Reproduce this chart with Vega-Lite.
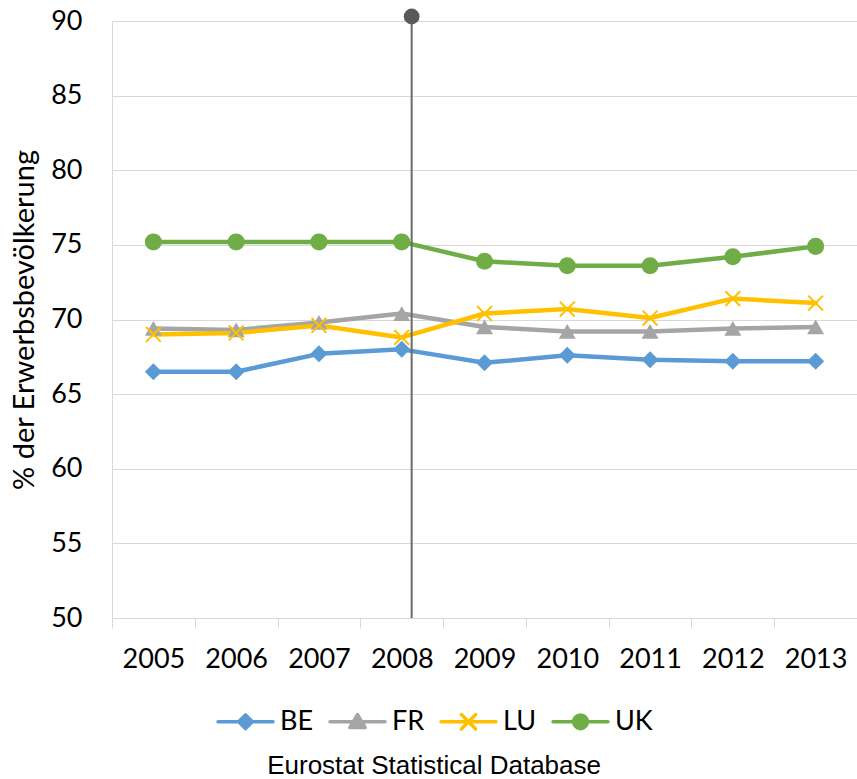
{
  "$schema": "https://vega.github.io/schema/vega-lite/v6.json",
  "autosize": {"type": "none"},
  "width": 745,
  "height": 597,
  "padding": {"left": 112, "top": 21, "right": 0, "bottom": 161},
  "background": "white",
  "title": {
    "text": "Eurostat Statistical Database",
    "orient": "bottom",
    "anchor": "middle",
    "frame": "bounds",
    "font": "Liberation Sans",
    "fontSize": 26,
    "fontWeight": "normal",
    "color": "#000000",
    "offset": 18
  },
  "datasets": {
    "main": [
      {"year": "2005", "country": "BE", "value": 66.5},
      {"year": "2006", "country": "BE", "value": 66.5},
      {"year": "2007", "country": "BE", "value": 67.7},
      {"year": "2008", "country": "BE", "value": 68.0},
      {"year": "2009", "country": "BE", "value": 67.1},
      {"year": "2010", "country": "BE", "value": 67.6},
      {"year": "2011", "country": "BE", "value": 67.3},
      {"year": "2012", "country": "BE", "value": 67.2},
      {"year": "2013", "country": "BE", "value": 67.2},
      {"year": "2005", "country": "FR", "value": 69.4},
      {"year": "2006", "country": "FR", "value": 69.3},
      {"year": "2007", "country": "FR", "value": 69.8},
      {"year": "2008", "country": "FR", "value": 70.4},
      {"year": "2009", "country": "FR", "value": 69.5},
      {"year": "2010", "country": "FR", "value": 69.2},
      {"year": "2011", "country": "FR", "value": 69.2},
      {"year": "2012", "country": "FR", "value": 69.4},
      {"year": "2013", "country": "FR", "value": 69.5},
      {"year": "2005", "country": "LU", "value": 69.0},
      {"year": "2006", "country": "LU", "value": 69.1},
      {"year": "2007", "country": "LU", "value": 69.6},
      {"year": "2008", "country": "LU", "value": 68.8},
      {"year": "2009", "country": "LU", "value": 70.4},
      {"year": "2010", "country": "LU", "value": 70.7},
      {"year": "2011", "country": "LU", "value": 70.1},
      {"year": "2012", "country": "LU", "value": 71.4},
      {"year": "2013", "country": "LU", "value": 71.1},
      {"year": "2005", "country": "UK", "value": 75.2},
      {"year": "2006", "country": "UK", "value": 75.2},
      {"year": "2007", "country": "UK", "value": 75.2},
      {"year": "2008", "country": "UK", "value": 75.2},
      {"year": "2009", "country": "UK", "value": 73.9},
      {"year": "2010", "country": "UK", "value": 73.6},
      {"year": "2011", "country": "UK", "value": 73.6},
      {"year": "2012", "country": "UK", "value": 74.2},
      {"year": "2013", "country": "UK", "value": 74.9}
    ],
    "marker": [
      {"year": "2008", "top": 90.3, "bottom": 50}
    ]
  },
  "layer": [
    {
      "data": {"name": "main"},
      "mark": {"type": "line", "strokeWidth": 4.5, "strokeCap": "round", "strokeJoin": "round"},
      "encoding": {
        "x": {"field": "year", "type": "ordinal"},
        "y": {
          "field": "value",
          "type": "quantitative",
          "title": "% der Erwerbsbevölkerung",
          "scale": {"domain": [50, 90], "zero": false, "nice": false},
          "axis": {"values": [50, 55, 60, 65, 70, 75, 80, 85, 90]}
        },
        "color": {
          "field": "country",
          "type": "nominal",
          "legend": {
            "orient": "none",
            "legendX": 104,
            "legendY": 671,
            "encode": {
              "symbols": {
                "update": {
                  "shape": {"signal": "datum.value === 'BE' ? 'M-1,0L1,0M0,-0.25L0.25,0L0,0.25L-0.25,0Z' : datum.value === 'FR' ? 'M-1,0L1,0M0,-0.26L0.28,0.21L-0.28,0.21Z' : datum.value === 'LU' ? 'M-1,0L1,0M-0.26,-0.26L0.26,0.26M0.26,-0.26L-0.26,0.26' : 'M-1,0L1,0M0.25,0A0.25,0.25 0 1,1 -0.25,0A0.25,0.25 0 1,1 0.25,0Z'"},
                  "fill": {"scale": "color", "field": "value"},
                  "stroke": {"scale": "color", "field": "value"},
                  "strokeWidth": {"value": 3.5},
                  "strokeCap": {"value": "round"},
                  "strokeJoin": {"value": "round"},
                  "size": {"value": 3025},
                  "opacity": {"value": 1},
                  "fillOpacity": {"value": 1},
                  "strokeOpacity": {"value": 1}
                }
              }
            }
          }
        }
      }
    },
    {
      "data": {"name": "main"},
      "transform": [{"filter": "datum.country !== 'LU'"}],
      "mark": {"type": "point", "filled": true, "opacity": 1, "size": 290},
      "encoding": {
        "x": {"field": "year", "type": "ordinal"},
        "y": {"field": "value", "type": "quantitative", "title": "% der Erwerbsbevölkerung"},
        "color": {"field": "country", "type": "nominal"},
        "shape": {
          "field": "country",
          "type": "nominal",
          "scale": {"domain": ["BE", "FR", "UK"], "range": ["diamond", "triangle-up", "circle"]},
          "legend": null
        }
      }
    },
    {
      "data": {"name": "main"},
      "transform": [{"filter": "datum.country === 'LU'"}],
      "mark": {"type": "point", "filled": false, "opacity": 1, "size": 220, "strokeWidth": 2, "shape": "M-1,-1L1,1M1,-1L-1,1"},
      "encoding": {
        "x": {"field": "year", "type": "ordinal"},
        "y": {"field": "value", "type": "quantitative", "title": "% der Erwerbsbevölkerung"},
        "color": {"field": "country", "type": "nominal"}
      }
    },
    {
      "data": {"name": "marker"},
      "mark": {"type": "rule", "color": "#6A6A6A", "strokeWidth": 2},
      "encoding": {
        "x": {"field": "year", "type": "ordinal", "bandPosition": 0.62},
        "y": {"field": "top", "type": "quantitative", "title": "% der Erwerbsbevölkerung"},
        "y2": {"field": "bottom"}
      }
    },
    {
      "data": {"name": "marker"},
      "mark": {"type": "point", "filled": true, "opacity": 1, "color": "#595959", "size": 250, "shape": "circle"},
      "encoding": {
        "x": {"field": "year", "type": "ordinal", "bandPosition": 0.62},
        "y": {"field": "top", "type": "quantitative", "title": "% der Erwerbsbevölkerung"}
      }
    }
  ],
  "config": {
    "view": {"stroke": null},
    "font": "Lato",
    "range": {"category": ["#5B9BD5", "#A5A5A5", "#FFC000", "#70AD47"]},
    "axisX": {
      "title": null,
      "labelAngle": 0,
      "labelFont": "Lato",
      "labelFontSize": 27,
      "labelColor": "#000000",
      "labelPadding": 18,
      "tickBand": "extent",
      "tickSize": 10,
      "tickColor": "#D9D9D9",
      "tickWidth": 1,
      "domainColor": "#D9D9D9",
      "domainWidth": 1,
      "grid": false
    },
    "axisY": {
      "labelFont": "Lato",
      "labelFontSize": 27,
      "labelColor": "#000000",
      "labelPadding": 30,
      "ticks": false,
      "domainColor": "#D9D9D9",
      "domainWidth": 1,
      "gridColor": "#D9D9D9",
      "gridWidth": 1,
      "titleFont": "Lato",
      "titleFontSize": 29,
      "titleFontWeight": "normal",
      "titleColor": "#000000",
      "titlePadding": 11
    },
    "legend": {
      "direction": "horizontal",
      "title": null,
      "labelFont": "Lato",
      "labelFontSize": 27,
      "labelColor": "#000000",
      "labelOffset": 5,
      "columnPadding": 14,
      "symbolSize": 3025,
      "symbolStrokeWidth": 3.5
    }
  }
}
